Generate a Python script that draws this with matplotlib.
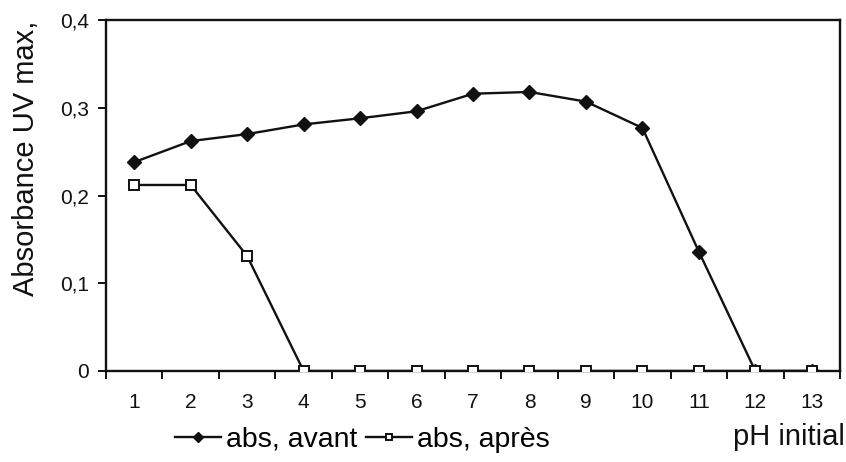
import matplotlib
matplotlib.use("Agg")
import matplotlib.pyplot as plt
from matplotlib.ticker import FixedLocator, NullFormatter

plt.rcParams["font.family"] = ["Liberation Sans", "DejaVu Sans"]

ph = [1, 2, 3, 4, 5, 6, 7, 8, 9, 10, 11, 12, 13]
abs_avant = [0.238, 0.262, 0.270, 0.281, 0.288, 0.296, 0.316, 0.318, 0.307, 0.277, 0.136, 0.0, 0.0]
abs_apres = [0.212, 0.212, 0.131, 0.0, 0.0, 0.0, 0.0, 0.0, 0.0, 0.0, 0.0, 0.0, 0.0]
yticks = [0, 0.1, 0.2, 0.3, 0.4]
ylabels = ["0", "0,1", "0,2", "0,3", "0,4"]

ink = "#111111"
fig = plt.figure(figsize=(8.46, 4.62), dpi=100)
ax = fig.add_axes([106 / 846, 1 - 371 / 462, 734 / 846, 351 / 462])

l1, = ax.plot(ph, abs_avant, "-D", color=ink, lw=1.7, ms=7, mfc=ink, mec=ink, zorder=3,
              label="abs, avant")
l2, = ax.plot(ph, abs_apres, "-s", color=ink, lw=1.7, ms=7, mfc="white", mec=ink, mew=1.4,
              zorder=4, label="abs, après")

ax.set_xlim(0.5, 13.5)
ax.set_ylim(0, 0.4)
ax.set_yticks(yticks)
ax.set_yticklabels(ylabels)
# category ticks sit between categories, labels at the centres
ax.xaxis.set_major_locator(FixedLocator([k + 0.5 for k in range(0, 14)]))
ax.xaxis.set_major_formatter(NullFormatter())
ax.xaxis.set_minor_locator(FixedLocator(ph))
ax.set_xticklabels([str(p) for p in ph], minor=True)
ax.tick_params(axis="x", which="minor", length=0, pad=16, labelsize=15, colors=ink)
ax.tick_params(axis="x", which="major", direction="out", length=6, width=1.4, color=ink)
ax.tick_params(axis="y", direction="out", length=6, width=1.4, labelsize=15, pad=6, colors=ink)
for s in ax.spines.values():
    s.set_linewidth(1.7); s.set_color(ink)

fig.text(26 / 846, 1 - 158 / 462, "Absorbance UV max,", rotation=90, ha="center", va="center",
         fontsize=21, color=ink)
fig.text(845 / 846, 1 - 437 / 462, "pH initial", ha="right", va="center", fontsize=21, color=ink)

fig.legend(handles=[l1, l2], loc="center left", bbox_to_anchor=(175 / 846, 1 - 440 / 462),
           frameon=False, ncol=2, fontsize=20.5, markerscale=0.7, handlelength=1.6,
           handletextpad=0.2, columnspacing=0.3, borderpad=0, borderaxespad=0)

fig.savefig("out.png", dpi=100)
